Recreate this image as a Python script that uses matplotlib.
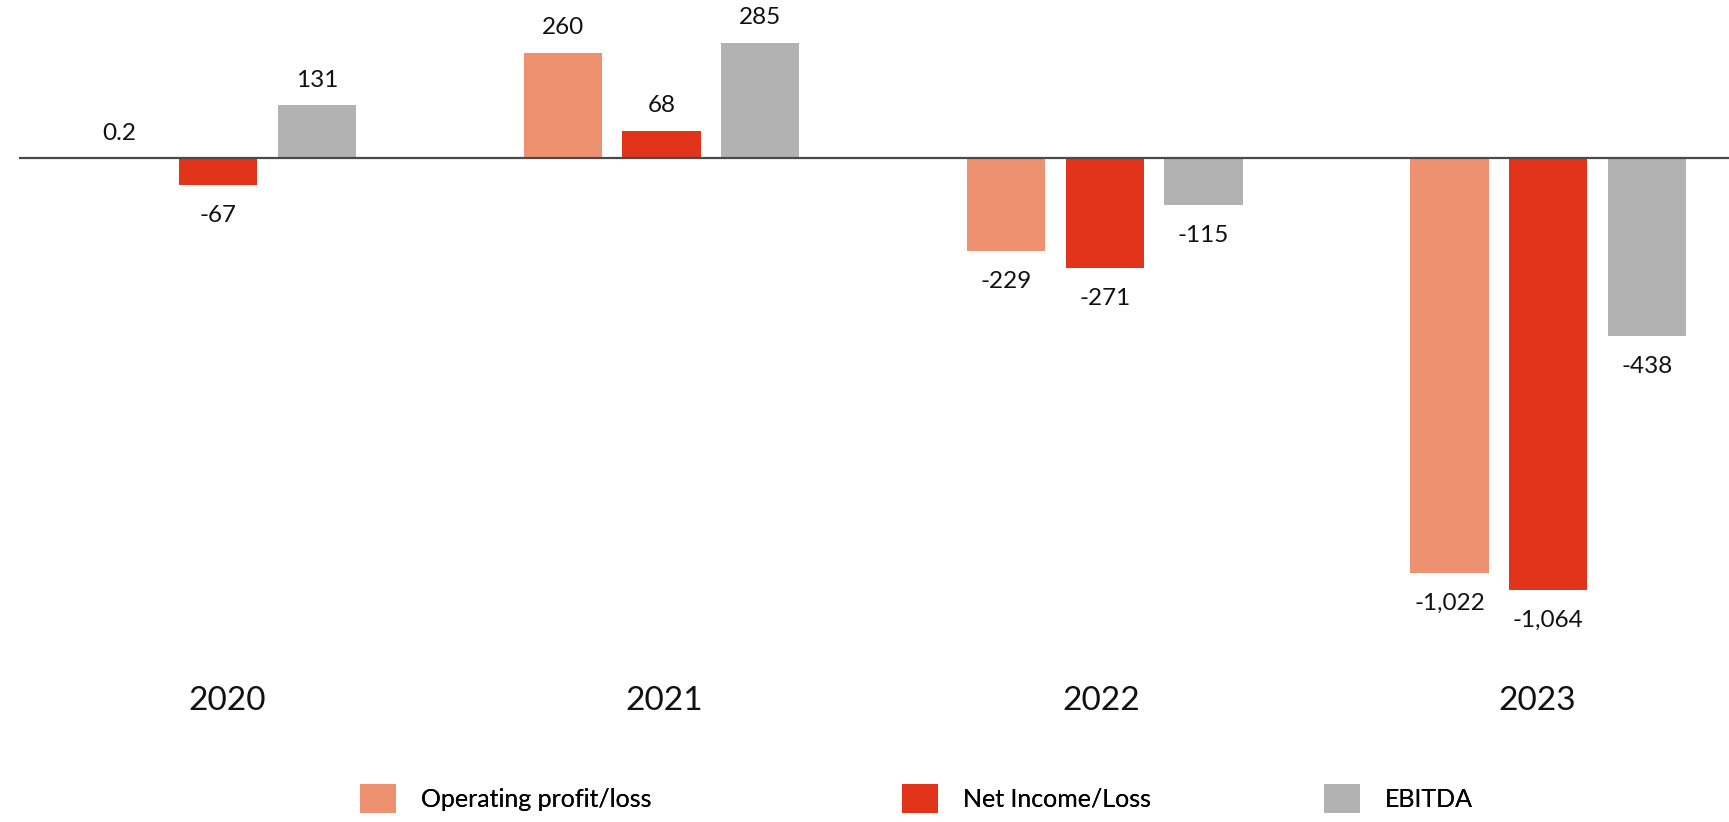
import matplotlib
matplotlib.use("Agg")
import matplotlib.pyplot as plt
import matplotlib.transforms as mtransforms
from matplotlib.patches import Patch
import numpy as np

years = ["2020", "2021", "2022", "2023"]
series_names = ["Operating profit/loss", "Net Income/Loss", "EBITDA"]
operating = [0.2, 260, -229, -1022]
net_income = [-67, 68, -271, -1064]
ebitda = [131, 285, -115, -438]
value_labels = [
    ["0.2", "260", "-229", "-1,022"],
    ["-67", "68", "-271", "-1,064"],
    ["131", "285", "-115", "-438"],
]
colors = ["#EE9170", "#E1341A", "#B2B2B2"]

plt.rcParams['font.family'] = ['Lato', 'DejaVu Sans']

W, H = 1729, 822
fig = plt.figure(figsize=(W / 100, H / 100), dpi=100)
ax_left = 18.7 / W
ax_top_px, ax_bot_px = 0, 645
ax = fig.add_axes([ax_left, 1 - ax_bot_px / H, 1 - ax_left, (ax_bot_px - ax_top_px) / H])

x = np.arange(len(years))
width = 0.1766
offset = 0.2226
all_series = [operating, net_income, ebitda]
for i, (vals, col) in enumerate(zip(all_series, colors)):
    xs = x + (i - 1) * offset
    ax.bar(xs, vals, width=width, color=col, zorder=2)
    for xi, v, lab in zip(xs, vals, value_labels[i]):
        dy = 18 if v >= 0 else -22
        ax.annotate(lab, (xi, v), xytext=(0, dy), textcoords="offset points",
                    ha="center", va="center", fontsize=17.5, color="#111111")

ax.set_xlim(-0.450, 3.408)
ax.set_ylim(-1200, 390)
ax.axhline(0, color="#4a4a4a", linewidth=1.6, zorder=3)
for s in ax.spines.values():
    s.set_visible(False)
ax.set_xticks([])
ax.set_yticks([])

trans = mtransforms.blended_transform_factory(ax.transData, fig.transFigure)
year_pos = 0.021 + 0.985 * x
for xi, yr in zip(year_pos, years):
    ax.text(xi, 1 - 701 / H, yr, transform=trans, ha="center", va="center",
            fontsize=24, color="#111111")

# legend
legend_x = [360, 902, 1324]
for name, col, lx in zip(series_names, colors, legend_x):
    leg = fig.legend(handles=[Patch(facecolor=col, edgecolor='none')], labels=[name],
                     loc="center left", bbox_to_anchor=(lx / W, 1 - 798.5 / H),
                     frameon=False, fontsize=18, handlelength=1.44, handleheight=1.4,
                     handletextpad=1.0, borderpad=0, borderaxespad=0)
    fig.add_artist(leg)

fig.savefig("out.png", dpi=100)
